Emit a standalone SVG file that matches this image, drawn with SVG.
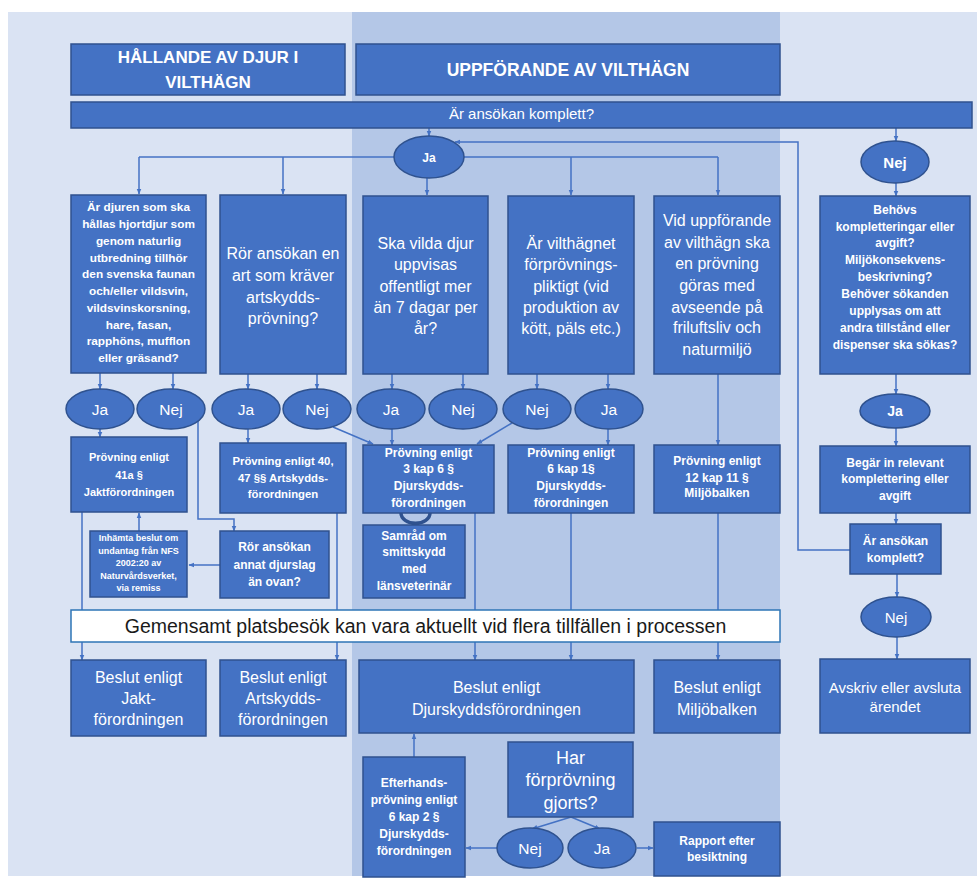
<svg xmlns="http://www.w3.org/2000/svg" width="977" height="878" viewBox="0 0 977 878">
<style>
.bx{fill:#4472C4;stroke:#2F528F;stroke-width:1.5}
.el{fill:#4472C4;stroke:#2F528F;stroke-width:1.5}
.t{font-family:"Liberation Sans",Arial,sans-serif;fill:#fff;text-anchor:middle}
.s{font-size:12px;font-weight:bold}
.m{font-size:16px}
.e{font-size:15.5px}
.h{font-size:17.5px;font-weight:bold}
.ln{fill:none;stroke:#4472C4;stroke-width:1.5}
.la{fill:none;stroke:#4472C4;stroke-width:1.5;marker-end:url(#a)}
</style>
<defs>
<marker id="a" viewBox="0 0 10 10" refX="9" refY="5" markerWidth="6" markerHeight="6" markerUnits="userSpaceOnUse" orient="auto"><path d="M0,1 L10,5 L0,9 z" fill="#4472C4"/></marker>
</defs>
<rect x="0" y="0" width="977" height="878" fill="#fff"/>
<rect x="8" y="12" width="969" height="864" fill="#DAE3F3"/>
<rect x="352" y="12" width="428" height="864" fill="#B4C7E7"/>

<g id="connectors">
<path class="la" d="M429,128 V136"/>
<path class="ln" d="M394,157 H139"/><path class="la" d="M139,157 V194"/>
<path class="la" d="M283,157 V194"/>
<path class="ln" d="M463,157 H718"/><path class="la" d="M718,157 V195"/>
<path class="la" d="M571,157 V195"/>
<path class="la" d="M427,178 V195"/>
<path class="la" d="M896,128 V141"/>
<path class="la" d="M896,183 V196"/>
<path class="la" d="M896,374 V394"/>
<path class="la" d="M896,428 V446"/>
<path class="la" d="M896,513 V524"/>
<path class="la" d="M897,574 V597"/>
<path class="la" d="M897,637 V659"/>
<path class="la" d="M850,550 H798 V142 H455"/>
<path class="la" d="M100,373 V389"/>
<path class="la" d="M173,373 V389"/>
<path class="la" d="M248,374 V389"/>
<path class="la" d="M317,374 V389"/>
<path class="la" d="M100,429 V437"/>
<path class="la" d="M248,429 V443"/>
<path class="la" d="M198,421 V519 H234 V531"/>
<path class="la" d="M220,565 H189"/>
<path class="la" d="M139,531 V513"/>
<path class="la" d="M82,512 V660"/>
<path class="la" d="M337,513 V660"/>
<path class="la" d="M333,427 L373,444"/>
<path class="la" d="M392,374 V389"/>
<path class="la" d="M463,374 V389"/>
<path class="la" d="M392,429 V445"/>
<path class="la" d="M537,374 V389"/>
<path class="la" d="M608,374 V389"/>
<path class="la" d="M512,423 L477,444"/>
<path class="la" d="M608,429 V445"/>
<path class="la" d="M718,374 V445"/>
<path class="la" d="M475,513 V660"/>
<path class="la" d="M571,513 V660"/>
<path class="la" d="M718,513 V660"/>
<path class="la" d="M414,757 V734"/>
<path class="la" d="M571,817 L532,829"/>
<path class="la" d="M571,817 L600,829"/>
<path class="la" d="M497,848 H466"/>
<path class="la" d="M637,848 H653"/>
<path d="M401,513 A14,10 0 0 0 430,513" fill="none" stroke="#2F528F" stroke-width="3.5"/>
</g>

<g id="hdr-left"><rect class="bx" x="71" y="44" width="274" height="51"/>
<text class="t h" x="208" y="63" style="font-size:17px">HÅLLANDE AV DJUR I</text><text class="t h" x="208" y="88" style="font-size:17px">VILTHÄGN</text></g>
<g id="hdr-right"><rect class="bx" x="356" y="44" width="424" height="51"/>
<text class="t h" x="568" y="76">UPPFÖRANDE AV VILTHÄGN</text></g>
<g id="bar"><rect class="bx" x="71" y="102" width="901" height="26"/>
<text class="t" x="521.5" y="118.5" style="font-size:15px">Är ansökan komplett?</text></g>

<g id="ja-top"><ellipse class="el" cx="429" cy="157" rx="35" ry="21"/><text class="t s" x="429" y="161.5">Ja</text></g>
<g id="nej-top"><ellipse class="el" cx="895" cy="162" rx="34" ry="21"/><text class="t" x="895" y="167.5" style="font-size:15px;font-weight:bold">Nej</text></g>

<g id="q1"><rect class="bx" x="71" y="195" width="135" height="178"/>
<text class="t s" x="138.5" style="font-size:11.8px"><tspan x="138.5" y="211">Är djuren som ska</tspan><tspan x="138.5" y="227.5">hållas hjortdjur som</tspan><tspan x="138.5" y="244.5">genom naturlig</tspan><tspan x="138.5" y="261.5">utbredning tillhör</tspan><tspan x="138.5" y="278">den svenska faunan</tspan><tspan x="138.5" y="295">och/eller vildsvin,</tspan><tspan x="138.5" y="311.5">vildsvinskorsning,</tspan><tspan x="138.5" y="328.5">hare, fasan,</tspan><tspan x="138.5" y="345">rapphöns, mufflon</tspan><tspan x="138.5" y="362">eller gräsand?</tspan></text></g>
<g id="q2"><rect class="bx" x="220" y="195" width="126" height="179"/>
<text class="t m"><tspan x="283" y="259">Rör ansökan en</tspan><tspan x="283" y="281">art som kräver</tspan><tspan x="283" y="303">artskydds-</tspan><tspan x="283" y="324">prövning?</tspan></text></g>
<g id="q3"><rect class="bx" x="363" y="196" width="125" height="178"/>
<text class="t m"><tspan x="425.5" y="249">Ska vilda djur</tspan><tspan x="425.5" y="270">uppvisas</tspan><tspan x="425.5" y="292">offentligt mer</tspan><tspan x="425.5" y="313">än 7 dagar per</tspan><tspan x="425.5" y="334">år?</tspan></text></g>
<g id="q4"><rect class="bx" x="508" y="196" width="126" height="178"/>
<text class="t m"><tspan x="571" y="249">Är vilthägnet</tspan><tspan x="571" y="270">förprövnings-</tspan><tspan x="571" y="292">pliktigt (vid</tspan><tspan x="571" y="313">produktion av</tspan><tspan x="571" y="334">kött, päls etc.)</tspan></text></g>
<g id="q5"><rect class="bx" x="654" y="196" width="126" height="178"/>
<text class="t m"><tspan x="717" y="226">Vid uppförande</tspan><tspan x="717" y="248">av vilthägn ska</tspan><tspan x="717" y="269">en prövning</tspan><tspan x="717" y="291">göras med</tspan><tspan x="717" y="313">avseende på</tspan><tspan x="717" y="333">friluftsliv och</tspan><tspan x="717" y="355">naturmiljö</tspan></text></g>
<g id="q-right"><rect class="bx" x="820" y="196" width="150" height="178"/>
<text class="t s"><tspan x="895" y="214">Behövs</tspan><tspan x="895" y="231">kompletteringar eller</tspan><tspan x="895" y="247">avgift?</tspan><tspan x="895" y="264">Miljökonsekvens-</tspan><tspan x="895" y="281">beskrivning?</tspan><tspan x="895" y="298">Behöver sökanden</tspan><tspan x="895" y="315">upplysas om att</tspan><tspan x="895" y="332">andra tillstånd eller</tspan><tspan x="895" y="349">dispenser ska sökas?</tspan></text></g>

<g id="ja1"><ellipse class="el" cx="100" cy="409" rx="34" ry="20"/><text class="t e" x="100" y="414.5">Ja</text></g>
<g id="nej1"><ellipse class="el" cx="171" cy="409" rx="34" ry="20"/><text class="t e" x="171" y="414.5">Nej</text></g>
<g id="ja2"><ellipse class="el" cx="246" cy="409" rx="34" ry="20"/><text class="t e" x="246" y="414.5">Ja</text></g>
<g id="nej2"><ellipse class="el" cx="317" cy="409" rx="34" ry="20"/><text class="t e" x="317" y="414.5">Nej</text></g>
<g id="ja3"><ellipse class="el" cx="391" cy="409" rx="34" ry="20"/><text class="t e" x="391" y="414.5">Ja</text></g>
<g id="nej3"><ellipse class="el" cx="463" cy="409" rx="34" ry="20"/><text class="t e" x="463" y="414.5">Nej</text></g>
<g id="nej4"><ellipse class="el" cx="537" cy="409" rx="34" ry="20"/><text class="t e" x="537" y="414.5">Nej</text></g>
<g id="ja4"><ellipse class="el" cx="609" cy="409" rx="34" ry="20"/><text class="t e" x="609" y="414.5">Ja</text></g>
<g id="ja-right"><ellipse class="el" cx="895" cy="411" rx="35" ry="17"/><text class="t" x="895" y="416" style="font-size:14px;font-weight:bold">Ja</text></g>

<g id="p41a"><rect class="bx" x="71" y="437" width="116" height="75"/>
<text class="t s" style="font-size:11px"><tspan x="129" y="461">Prövning enligt</tspan><tspan x="129" y="479">41a §</tspan><tspan x="129" y="496">Jaktförordningen</tspan></text></g>
<g id="p40"><rect class="bx" x="220" y="443" width="126" height="70"/>
<text class="t s" style="font-size:11.3px"><tspan x="283" y="465">Prövning enligt 40,</tspan><tspan x="283" y="482">47 §§ Artskydds-</tspan><tspan x="283" y="498">förordningen</tspan></text></g>
<g id="p3kap"><rect class="bx" x="363" y="445" width="131" height="68"/>
<text class="t s"><tspan x="428.5" y="457">Prövning enligt</tspan><tspan x="428.5" y="473">3 kap 6 §</tspan><tspan x="428.5" y="490">Djurskydds-</tspan><tspan x="428.5" y="507">förordningen</tspan></text></g>
<g id="p6kap"><rect class="bx" x="508" y="445" width="126" height="68"/>
<text class="t s"><tspan x="571" y="457">Prövning enligt</tspan><tspan x="571" y="473">6 kap 1§</tspan><tspan x="571" y="490">Djurskydds-</tspan><tspan x="571" y="507">förordningen</tspan></text></g>
<g id="p12kap"><rect class="bx" x="654" y="445" width="126" height="68"/>
<text class="t s"><tspan x="717" y="465">Prövning enligt</tspan><tspan x="717" y="482">12 kap 11 §</tspan><tspan x="717" y="497">Miljöbalken</tspan></text></g>
<g id="begar"><rect class="bx" x="820" y="446" width="150" height="67"/>
<text class="t s"><tspan x="895" y="467">Begär in relevant</tspan><tspan x="895" y="483">komplettering eller</tspan><tspan x="895" y="500">avgift</tspan></text></g>

<g id="inhamta"><rect class="bx" x="90" y="531" width="97" height="66"/>
<text class="t" style="font-size:9px;font-weight:bold"><tspan x="138.5" y="541">Inhämta beslut om</tspan><tspan x="138.5" y="554">undantag från NFS</tspan><tspan x="138.5" y="566">2002:20 av</tspan><tspan x="138.5" y="579">Naturvårdsverket,</tspan><tspan x="138.5" y="591">via remiss</tspan></text></g>
<g id="annat"><rect class="bx" x="220" y="531" width="109" height="67"/>
<text class="t s"><tspan x="274.5" y="551">Rör ansökan</tspan><tspan x="274.5" y="569">annat djurslag</tspan><tspan x="274.5" y="586">än ovan?</tspan></text></g>
<g id="samrad"><rect class="bx" x="363" y="525" width="102" height="73"/>
<text class="t s"><tspan x="414" y="540">Samråd om</tspan><tspan x="414" y="556">smittskydd</tspan><tspan x="414" y="573">med</tspan><tspan x="414" y="590">länsveterinär</tspan></text></g>
<g id="komplett"><rect class="bx" x="850" y="524" width="91" height="50"/>
<text class="t s"><tspan x="895.5" y="545">Är ansökan</tspan><tspan x="895.5" y="562">komplett?</tspan></text></g>

<g id="banner"><rect x="71" y="610" width="709" height="32" fill="#fff" stroke="#2E75B6" stroke-width="1.5"/>
<text x="425.5" y="633" text-anchor="middle" font-family="Liberation Sans, Arial, sans-serif" font-size="19.5" fill="#1a1a1a">Gemensamt platsbesök kan vara aktuellt vid flera tillfällen i processen</text></g>

<g id="nej-right"><ellipse class="el" cx="896" cy="617" rx="35" ry="20"/><text class="t" x="896" y="622.5" style="font-size:15px">Nej</text></g>

<g id="b-jakt"><rect class="bx" x="71" y="660" width="135" height="76"/>
<text class="t m"><tspan x="138.5" y="683">Beslut enligt</tspan><tspan x="138.5" y="704">Jakt-</tspan><tspan x="138.5" y="725">förordningen</tspan></text></g>
<g id="b-art"><rect class="bx" x="220" y="660" width="126" height="76"/>
<text class="t m"><tspan x="283" y="683">Beslut enligt</tspan><tspan x="283" y="704">Artskydds-</tspan><tspan x="283" y="725">förordningen</tspan></text></g>
<g id="b-djur"><rect class="bx" x="359" y="660" width="275" height="73"/>
<text class="t m"><tspan x="496.5" y="693">Beslut enligt</tspan><tspan x="496.5" y="715">Djurskyddsförordningen</tspan></text></g>
<g id="b-miljo"><rect class="bx" x="654" y="660" width="126" height="73"/>
<text class="t m"><tspan x="717" y="693">Beslut enligt</tspan><tspan x="717" y="715">Miljöbalken</tspan></text></g>
<g id="avskriv"><rect class="bx" x="820" y="659" width="150" height="74"/>
<text class="t" style="font-size:15px"><tspan x="895" y="693">Avskriv eller avsluta</tspan><tspan x="895" y="712">ärendet</tspan></text></g>

<g id="har"><rect class="bx" x="508" y="742" width="125" height="75"/>
<text class="t" style="font-size:18px"><tspan x="570.5" y="764">Har</tspan><tspan x="570.5" y="786">förprövning</tspan><tspan x="570.5" y="809">gjorts?</tspan></text></g>
<g id="efterhands"><rect class="bx" x="363" y="757" width="102" height="120"/>
<text class="t s"><tspan x="414" y="787">Efterhands-</tspan><tspan x="414" y="804">prövning enligt</tspan><tspan x="414" y="821">6 kap 2 §</tspan><tspan x="414" y="838">Djurskydds-</tspan><tspan x="414" y="855">förordningen</tspan></text></g>
<g id="nej5"><ellipse class="el" cx="530" cy="848" rx="33" ry="20"/><text class="t e" x="530" y="853.5">Nej</text></g>
<g id="ja5"><ellipse class="el" cx="602" cy="848" rx="34" ry="20"/><text class="t e" x="602" y="853.5">Ja</text></g>
<g id="rapport"><rect class="bx" x="654" y="822" width="126" height="54"/>
<text class="t s"><tspan x="717" y="845">Rapport efter</tspan><tspan x="717" y="861">besiktning</tspan></text></g>
</svg>
